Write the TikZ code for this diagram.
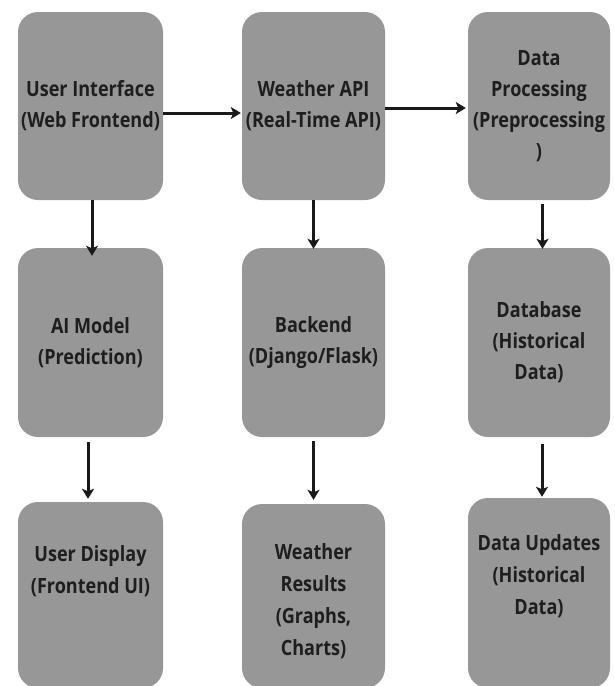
\documentclass[tikz,border=0pt]{standalone}
\usepackage{fontspec}
\newfontfamily\boxfont{Open Sans}[FakeStretch=0.86]
\usepackage{tikz}
\usetikzlibrary{positioning, arrows.meta, calc}

\definecolor{boxgray}{RGB}{151,151,151}
\definecolor{boxtextcol}{RGB}{30,30,30}

\begin{document}
\begin{tikzpicture}[x=1pt, y=-1pt,
        procbox/.style={rectangle, rounded corners=20pt, fill=boxgray, draw=none,
            text=boxtextcol, align=center, inner sep=0pt,
            font=\boxfont\bfseries\fontsize{21}{31}\selectfont},
        boxtext/.style={text=boxtextcol, align=center, inner sep=0pt,
            font=\boxfont\bfseries\fontsize{21}{32}\selectfont},
        flow/.style={draw=black!90, line width=3pt, -{Stealth[length=10pt, width=12pt, inset=2.5pt]}}
    ]
        \useasboundingbox (0,0) rectangle (614,686);

        % first row
        \node[procbox, minimum width=145pt, minimum height=188pt] (ui) at (90.5,106)
            {User Interface\\(Web Frontend)};
        \node[procbox, minimum width=143pt, minimum height=188pt] (api) at (313.5,106)
            {Weather API\\(Real-Time API)};
        \node[procbox, minimum width=142pt, minimum height=188pt] (proc) at (539,106)
            {Data\\Processing\\(Preprocessing\\)};

        % second row
        \node[procbox, minimum width=145pt, minimum height=189pt] (model) at (90.5,342.5)
            {AI Model\\(Prediction)};
        \node[procbox, minimum width=143pt, minimum height=189pt] (backend) at (313.5,342.5)
            {Backend\\(Django/Flask)};
        \node[procbox, minimum width=142pt, minimum height=189pt] (db) at (539,342.5)
            {Database\\(Historical\\Data)};

        % third row (runs off the bottom edge)
        \node[procbox, minimum width=145pt, minimum height=186pt] (display) at (90.5,595) {};
        \node[procbox, minimum width=143pt, minimum height=184pt] (results) at (313.5,596) {};
        \node[procbox, minimum width=142pt, minimum height=190pt] (updates) at (539,593) {};

        \node[boxtext] (display-text) at ([yshift=24pt]display.center)
            {User Display\\(Frontend UI)};
        \node[boxtext] (results-text) at ([yshift=-5pt]results.center)
            {Weather\\Results\\(Graphs,\\Charts)};
        \node[boxtext] (updates-text) at ([yshift=17pt]updates.center)
            {Data Updates\\(Historical\\Data)};

        % horizontal arrows
        \draw[flow] ([yshift=-7pt]ui.east) -- ([yshift=-7pt, xshift=-1pt]api.west);
        \draw[flow] ([yshift=-2pt]api.east) -- ([yshift=-2pt, xshift=-2pt]proc.west);

        % vertical arrows
        \draw[flow] ([xshift=1.5pt]ui.south) -- ([xshift=1.5pt, yshift=-8pt]model.north);
        \draw[flow] (api.south) -- ([yshift=-1pt]backend.north);
        \draw[flow] ([xshift=3.5pt, yshift=-4pt]proc.south) -- ([xshift=3.5pt, yshift=-1pt]db.north);
        \draw[flow] ([xshift=-2.5pt, yshift=-5pt]model.south) -- ([xshift=-2.5pt, yshift=3pt]display.north);
        \draw[flow] ([yshift=-4pt]backend.south) -- ([yshift=4pt]results.north);
        \draw[flow] ([xshift=3pt, yshift=-7pt]db.south) -- ([xshift=3pt, yshift=1pt]updates.north);
    \end{tikzpicture}
\end{document}
